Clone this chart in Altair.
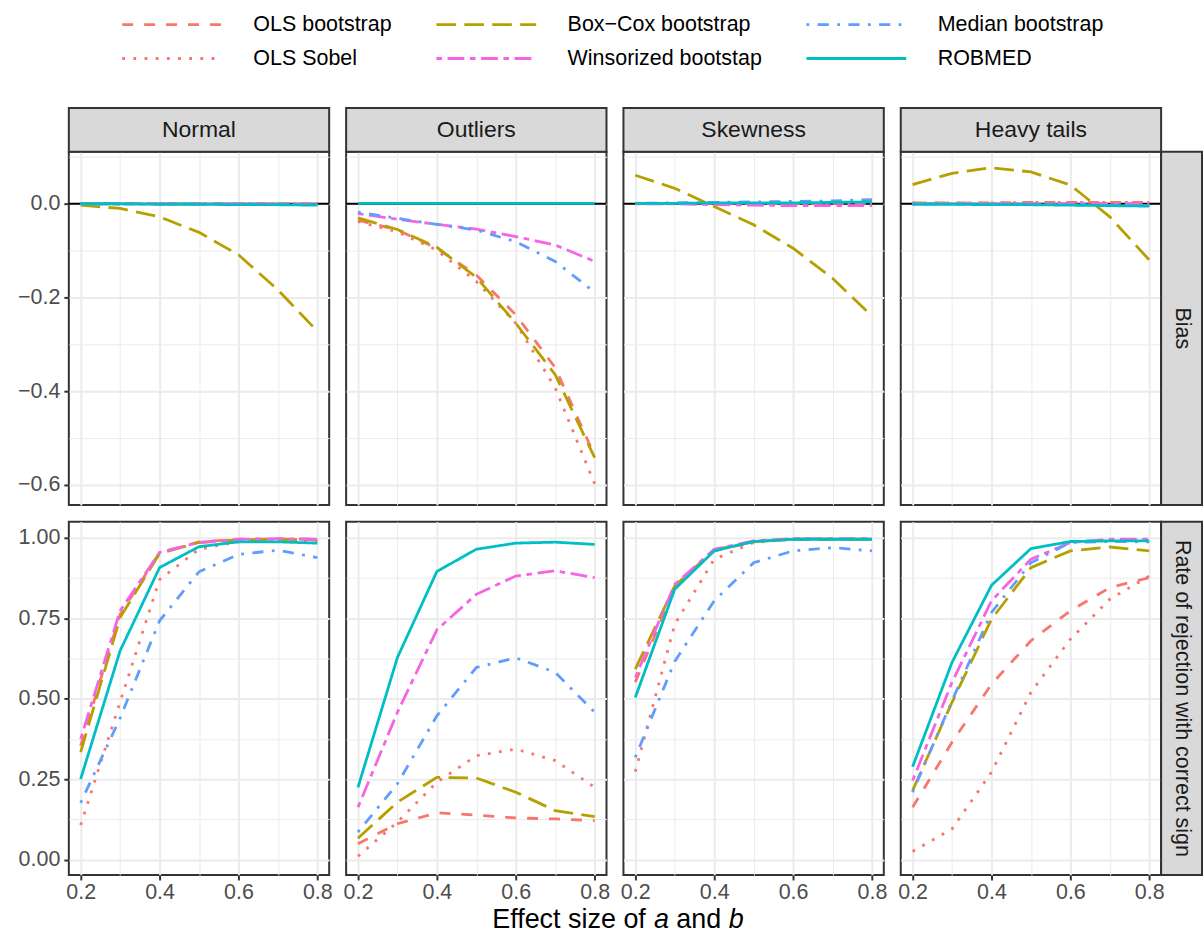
import altair as alt
import pandas as pd

# ---------------- data ----------------
x_values = [0.2, 0.3, 0.4, 0.5, 0.6, 0.7, 0.8]
scenarios = ["Normal", "Outliers", "Skewness", "Heavy tails"]
row_labels = ["Bias", "Rate of rejection with correct sign"]
methods = ["OLS bootstrap", "OLS Sobel", "Box\u2212Cox bootstrap",
           "Winsorized bootstap", "Median bootstrap", "ROBMED"]
method_colors = ["#F8766D", "#F8766D", "#B79F00", "#F564E3", "#619CFF", "#00BFC4"]
method_dashes = [[11, 11], [2.8, 8.4], [19.6, 8.4],
                 [5.6, 5.6, 16.8, 5.6], [2.8, 8.4, 11.2, 8.4], [1, 0]]
x_title_parts = ["Effect size of", "a", "and", "b"]

x_ticks = [0.2, 0.3, 0.4, 0.5, 0.6, 0.7, 0.8]
bias_ticks = [-0.6, -0.5, -0.4, -0.3, -0.2, -0.1, 0.0, 0.1]
rate_ticks = [0.0, 0.125, 0.25, 0.375, 0.5, 0.625, 0.75, 0.875, 1.0]

bias_normal = {
    "OLS bootstrap":       [0.001, 0.001, 0.000, 0.000, 0.001, 0.000, 0.000],
    "OLS Sobel":           [0.001, 0.001, 0.000, 0.000, 0.001, 0.000, 0.000],
    "Box\u2212Cox bootstrap": [-0.003, -0.010, -0.028, -0.061, -0.109, -0.184, -0.272],
    "Winsorized bootstap": [0.000, -0.001, 0.000, -0.001, 0.000, -0.001, -0.001],
    "Median bootstrap":    [0.000, 0.000, -0.001, 0.000, -0.001, -0.001, -0.002],
    "ROBMED":              [0.000, 0.000, -0.001, -0.001, -0.002, -0.002, -0.003],
}
bias_outliers = {
    "OLS bootstrap":       [-0.035, -0.056, -0.095, -0.152, -0.237, -0.350, -0.538],
    "OLS Sobel":           [-0.038, -0.060, -0.099, -0.166, -0.255, -0.393, -0.598],
    "Box\u2212Cox bootstrap": [-0.030, -0.055, -0.093, -0.157, -0.255, -0.365, -0.542],
    "Winsorized bootstap": [-0.021, -0.033, -0.044, -0.054, -0.070, -0.088, -0.123],
    "Median bootstrap":    [-0.018, -0.031, -0.044, -0.056, -0.081, -0.123, -0.189],
    "ROBMED":              [0.001, 0.001, 0.001, 0.001, 0.001, 0.001, 0.001],
}
bias_skewness = {
    "OLS bootstrap":       [0.001, 0.001, 0.001, 0.001, 0.001, 0.001, 0.001],
    "OLS Sobel":           [0.001, 0.001, 0.001, 0.001, 0.001, 0.001, 0.001],
    "Box\u2212Cox bootstrap": [0.061, 0.033, -0.006, -0.045, -0.095, -0.159, -0.240],
    "Winsorized bootstap": [0.000, 0.000, -0.002, -0.003, -0.004, -0.004, -0.004],
    "Median bootstrap":    [0.001, 0.002, 0.003, 0.004, 0.005, 0.006, 0.009],
    "ROBMED":              [0.001, 0.001, 0.002, 0.002, 0.002, 0.003, 0.004],
}
bias_heavy = {
    "OLS bootstrap":       [0.002, 0.002, 0.002, 0.003, 0.003, 0.003, 0.003],
    "OLS Sobel":           [0.002, 0.002, 0.002, 0.003, 0.003, 0.003, 0.003],
    "Box\u2212Cox bootstrap": [0.041, 0.065, 0.077, 0.068, 0.040, -0.028, -0.120],
    "Winsorized bootstap": [0.000, 0.000, 0.000, 0.000, 0.000, 0.000, 0.000],
    "Median bootstrap":    [0.000, 0.000, -0.001, -0.001, -0.002, -0.003, -0.004],
    "ROBMED":              [-0.001, -0.001, -0.002, -0.002, -0.003, -0.004, -0.005],
}
rate_normal = {
    "OLS bootstrap":       [0.354, 0.762, 0.953, 0.987, 0.995, 0.996, 0.995],
    "OLS Sobel":           [0.108, 0.490, 0.870, 0.964, 0.987, 0.990, 0.990],
    "Box\u2212Cox bootstrap": [0.334, 0.752, 0.951, 0.985, 0.993, 0.995, 0.993],
    "Winsorized bootstap": [0.375, 0.773, 0.954, 0.985, 0.995, 0.997, 0.995],
    "Median bootstrap":    [0.177, 0.440, 0.742, 0.894, 0.948, 0.961, 0.938],
    "ROBMED":              [0.251, 0.649, 0.907, 0.972, 0.987, 0.987, 0.983],
}
rate_outliers = {
    "OLS bootstrap":       [0.050, 0.112, 0.146, 0.139, 0.130, 0.127, 0.122],
    "OLS Sobel":           [0.011, 0.117, 0.241, 0.323, 0.344, 0.308, 0.225],
    "Box\u2212Cox bootstrap": [0.067, 0.179, 0.256, 0.254, 0.210, 0.153, 0.134],
    "Winsorized bootstap": [0.163, 0.458, 0.714, 0.824, 0.881, 0.897, 0.876],
    "Median bootstrap":    [0.086, 0.236, 0.447, 0.597, 0.627, 0.582, 0.458],
    "ROBMED":              [0.225, 0.628, 0.895, 0.964, 0.983, 0.986, 0.979],
}
rate_skewness = {
    "OLS bootstrap":       [0.551, 0.845, 0.959, 0.987, 0.995, 0.995, 0.995],
    "OLS Sobel":           [0.274, 0.731, 0.933, 0.985, 0.995, 0.995, 0.995],
    "Box\u2212Cox bootstrap": [0.592, 0.850, 0.962, 0.987, 0.995, 0.995, 0.995],
    "Winsorized bootstap": [0.566, 0.855, 0.964, 0.990, 0.997, 0.997, 0.997],
    "Median bootstrap":    [0.318, 0.616, 0.804, 0.922, 0.959, 0.969, 0.959],
    "ROBMED":              [0.504, 0.840, 0.959, 0.988, 0.995, 0.995, 0.995],
}
rate_heavy = {
    "OLS bootstrap":       [0.163, 0.365, 0.545, 0.680, 0.773, 0.845, 0.876],
    "OLS Sobel":           [0.026, 0.096, 0.272, 0.520, 0.685, 0.809, 0.881],
    "Box\u2212Cox bootstrap": [0.215, 0.489, 0.747, 0.907, 0.959, 0.971, 0.959],
    "Winsorized bootstap": [0.246, 0.551, 0.804, 0.933, 0.985, 0.995, 0.995],
    "Median bootstrap":    [0.210, 0.494, 0.768, 0.922, 0.985, 0.988, 0.987],
    "ROBMED":              [0.289, 0.613, 0.852, 0.966, 0.988, 0.990, 0.990],
}
grid_data = [[bias_normal, bias_outliers, bias_skewness, bias_heavy],
             [rate_normal, rate_outliers, rate_skewness, rate_heavy]]

# ---------------- layout / style ----------------
W, H = 261, 354
SPACING = 17
STRIP_H = 44
STRIP_W = 41
FONT = "Liberation Sans"
SMALL = 21.5
STRIP_FS = 23
TITLE = 27
LW = 2.8

y_domains = [[-0.643, 0.111], [-0.047, 1.049]]
y_ticks = [bias_ticks, rate_ticks]
major_tests = ["round(datum.value*10)%2==0", "round(datum.value*8)%2==0"]
label_fmt = ["'.1f'", "'.2f'"]


def make_df(d):
    rows = []
    for m in methods:
        for xv, yv in zip(x_values, d[m]):
            rows.append({"x": xv, "value": yv, "method": m})
    return pd.DataFrame(rows)


def x_axis(show):
    test = "round(datum.value*10)%2==0"
    kw = dict(values=x_ticks, grid=True, gridColor="#EBEBEB",
              gridWidth={"condition": {"test": test, "value": 2}, "value": 1},
              domain=False, title=None, labelFlush=False, labelOverlap=False)
    if show:
        kw.update(labels=True, ticks=True,
                  tickSize={"condition": {"test": test, "value": 5}, "value": 0},
                  labelExpr=f"{test} ? format(datum.value, '.1f') : ''",
                  labelPadding=2)
    else:
        kw.update(labels=False, ticks=False)
    return alt.Axis(**kw)


def y_axis(r, show):
    test = major_tests[r]
    kw = dict(values=y_ticks[r], grid=True, gridColor="#EBEBEB",
              gridWidth={"condition": {"test": test, "value": 2}, "value": 1},
              domain=False, title=None, labelFlush=False, labelOverlap=False)
    if show:
        kw.update(labels=True, ticks=True,
                  tickSize={"condition": {"test": test, "value": 5}, "value": 0},
                  labelExpr=f"{test} ? format(datum.value, {label_fmt[r]}) : ''",
                  labelPadding=4)
    else:
        kw.update(labels=False, ticks=False)
    return alt.Axis(**kw)


legend = alt.Legend(title=None, orient="none", legendX=52, legendY=-139,
                    columns=3, symbolType="M-1,0H9", symbolSize=400,
                    symbolStrokeWidth=LW, labelOffset=110, labelFontSize=SMALL,
                    labelFont=FONT, labelColor="#000000", labelLimit=500,
                    columnPadding=38, rowPadding=12, padding=0)


def panel(r, c):
    df = make_df(grid_data[r][c])
    xs = alt.Scale(domain=[0.17, 0.83], nice=False, zero=False)
    ys = alt.Scale(domain=y_domains[r], nice=False, zero=False)
    xenc = alt.X("x:Q", scale=xs, axis=x_axis(r == 1))
    yenc = alt.Y("value:Q", scale=ys, axis=y_axis(r, c == 0))
    layers = []
    if r == 0:
        layers.append(
            alt.Chart(pd.DataFrame({"value": [0.0]}))
            .mark_rule(color="black", strokeWidth=2)
            .encode(y=yenc)
        )
    layers.append(
        alt.Chart(df).mark_line(strokeWidth=LW).encode(
            x=xenc, y=yenc,
            color=alt.Color("method:N", scale=alt.Scale(domain=methods, range=method_colors), legend=legend),
            strokeDash=alt.StrokeDash("method:N", scale=alt.Scale(domain=methods, range=method_dashes), legend=legend),
        )
    )
    one = pd.DataFrame({"label": [scenarios[c]]})
    if r == 0:
        layers.append(
            alt.Chart(one).mark_rect(fill="#D9D9D9", stroke="#333333", strokeWidth=2)
            .encode(x=alt.value(0), x2=alt.value(W), y=alt.value(-STRIP_H), y2=alt.value(0))
        )
        layers.append(
            alt.Chart(one).mark_text(font=FONT, fontSize=STRIP_FS, color="#1A1A1A",
                                     align="center", baseline="middle")
            .encode(x=alt.value(W / 2), y=alt.value(-STRIP_H / 2), text="label:N")
        )
    if c == 3:
        rl = pd.DataFrame({"label": [row_labels[r]]})
        layers.append(
            alt.Chart(rl).mark_rect(fill="#D9D9D9", stroke="#333333", strokeWidth=2)
            .encode(x=alt.value(W), x2=alt.value(W + STRIP_W), y=alt.value(0), y2=alt.value(H))
        )
        layers.append(
            alt.Chart(rl).mark_text(font=FONT, fontSize=SMALL, color="#1A1A1A",
                                    align="center", baseline="middle", angle=90)
            .encode(x=alt.value(W + STRIP_W / 2), y=alt.value(H / 2), text="label:N")
        )
    if r == 0 and c == 0:
        layers.append(
            alt.Chart(one).mark_rect(fill="white")
            .encode(x=alt.value(-68), x2=alt.value(-67), y=alt.value(-150), y2=alt.value(-149))
        )
    if r == 1 and c == 1:
        em = [0.0, 6.003, 6.837, 8.783]
        total = 9.339 * TITLE
        x0 = W + SPACING / 2 - total / 2 + 3
        styles = ["normal", "italic", "normal", "italic"]
        for part, off, st in zip(x_title_parts, em, styles):
            layers.append(
                alt.Chart(one).mark_text(font=FONT, fontSize=TITLE, fontStyle=st,
                                         color="#000000", align="left", baseline="alphabetic")
                .encode(x=alt.value(x0 + off * TITLE), y=alt.value(407), text=alt.value(part))
            )
    return alt.layer(*layers).properties(width=W, height=H)


panels = [panel(r, c) for r in range(2) for c in range(4)]

chart = (
    alt.concat(*panels, columns=4, spacing=SPACING, bounds="flush")
    .resolve_scale(x="independent", y="independent", color="shared", strokeDash="shared")
    .properties(padding=0, background="white")
    .configure(font=FONT)
    .configure_view(stroke="#333333", strokeWidth=2)
    .configure_axis(labelFont=FONT, labelFontSize=SMALL, labelColor="#4D4D4D",
                    tickColor="#333333", tickWidth=2)
)

chart.save("out.html", embed_options={"renderer": "svg", "actions": False})
